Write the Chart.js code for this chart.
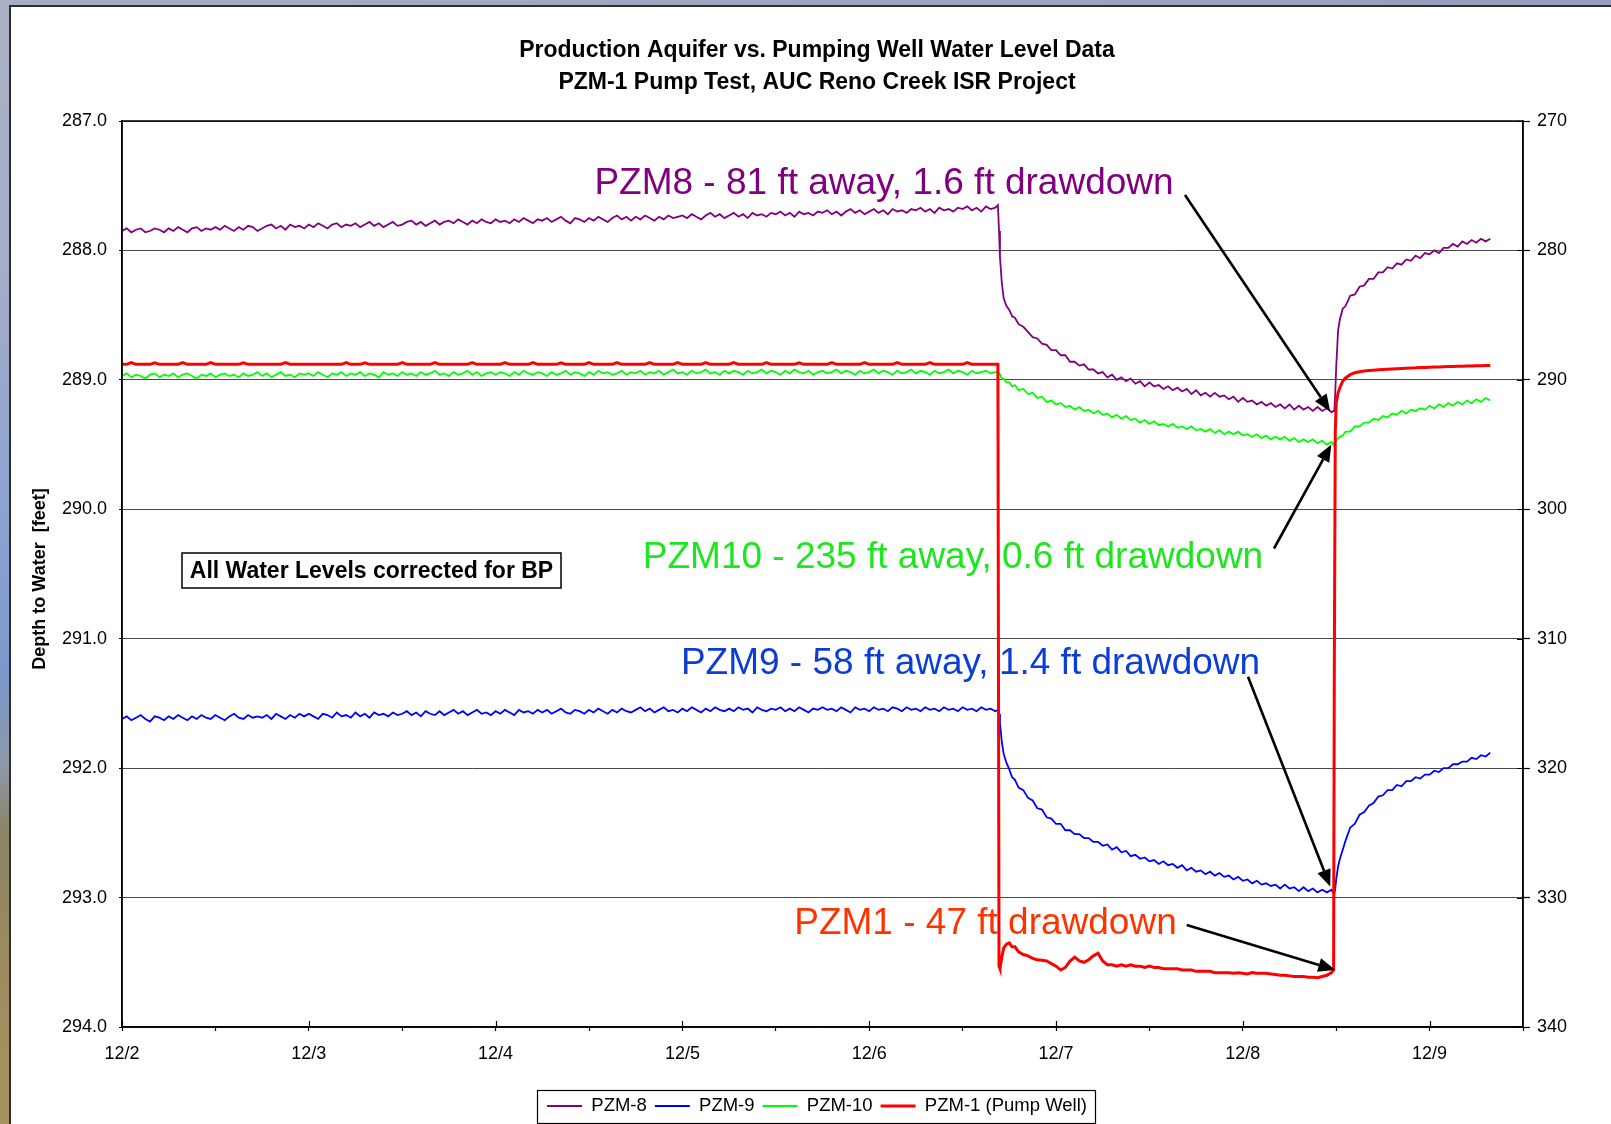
<!DOCTYPE html>
<html>
<head>
<meta charset="utf-8">
<script src="https://cdn.jsdelivr.net/npm/chart.js@4.4.1/dist/chart.umd.min.js"></script>
<style>
html,body{margin:0;padding:0;width:1611px;height:1124px;overflow:hidden;}
body{position:relative;background:linear-gradient(90deg,#a9adc3 0%,#a0a5bf 50%,#989dbb 100%);}
#strip{position:absolute;left:0;top:0;width:12px;height:1124px;background:linear-gradient(180deg,#abb0c5 0%,#a6adc7 22%,#90a5d0 42%,#7c98cc 60%,#8e98a8 68%,#8b8466 74%,#9c8b5d 86%,#a6945f 100%);}
#panel{position:absolute;left:9px;top:5px;width:1700px;height:1200px;border:2px solid #2e2e2e;background:#ffffff;}
#c{position:absolute;left:0;top:0;}
</style>
</head>
<body>
<div id="strip"></div>
<div id="panel"><canvas id="c" width="1612" height="1124"></canvas></div>
<script>
// ---------- DATA ----------
const titleLines = ['Production Aquifer vs. Pumping Well Water Level Data', 'PZM-1 Pump Test, AUC Reno Creek ISR Project'];
const seriesNames = ['PZM-8', 'PZM-9', 'PZM-10', 'PZM-1 (Pump Well)'];

const xTickDays = [0, 1, 2, 3, 4, 5, 6, 7];
const xTickLabels = ['12/2', '12/3', '12/4', '12/5', '12/6', '12/7', '12/8', '12/9'];
const yLeftTickValues = [287, 288, 289, 290, 291, 292, 293, 294];
const yLeftTickLabels = ['287.0', '288.0', '289.0', '290.0', '291.0', '292.0', '293.0', '294.0'];
const yRightTickValues = [270, 280, 290, 300, 310, 320, 330, 340];
const yRightTickLabels = ['270', '280', '290', '300', '310', '320', '330', '340'];

// time in days since 12/2 00:00
const timeDays = [
  0, 0.025, 0.05, 0.075, 0.1, 0.125, 0.15, 0.175, 0.2, 0.225,
  0.25, 0.275, 0.3, 0.325, 0.35, 0.375, 0.4, 0.425, 0.45, 0.475,
  0.5, 0.525, 0.55, 0.575, 0.6, 0.625, 0.65, 0.675, 0.7, 0.725,
  0.75, 0.775, 0.8, 0.825, 0.85, 0.875, 0.9, 0.925, 0.95, 0.975,
  1.0, 1.025, 1.05, 1.075, 1.1, 1.125, 1.15, 1.175, 1.2, 1.225,
  1.25, 1.275, 1.3, 1.325, 1.35, 1.375, 1.4, 1.425, 1.45, 1.475,
  1.5, 1.525, 1.55, 1.575, 1.6, 1.625, 1.65, 1.675, 1.7, 1.725,
  1.75, 1.775, 1.8, 1.825, 1.85, 1.875, 1.9, 1.925, 1.95, 1.975,
  2.0, 2.025, 2.05, 2.075, 2.1, 2.125, 2.15, 2.175, 2.2, 2.225,
  2.25, 2.275, 2.3, 2.325, 2.35, 2.375, 2.4, 2.425, 2.45, 2.475,
  2.5, 2.525, 2.55, 2.575, 2.6, 2.625, 2.65, 2.675, 2.7, 2.725,
  2.75, 2.775, 2.8, 2.825, 2.85, 2.875, 2.9, 2.925, 2.95, 2.975,
  3.0, 3.025, 3.05, 3.075, 3.1, 3.125, 3.15, 3.175, 3.2, 3.225,
  3.25, 3.275, 3.3, 3.325, 3.35, 3.375, 3.4, 3.425, 3.45, 3.475,
  3.5, 3.525, 3.55, 3.575, 3.6, 3.625, 3.65, 3.675, 3.7, 3.725,
  3.75, 3.775, 3.8, 3.825, 3.85, 3.875, 3.9, 3.925, 3.95, 3.975,
  4.0, 4.025, 4.05, 4.075, 4.1, 4.125, 4.15, 4.175, 4.2, 4.225,
  4.25, 4.275, 4.3, 4.325, 4.35, 4.375, 4.4, 4.425, 4.45, 4.475,
  4.5, 4.525, 4.55, 4.575, 4.6, 4.625, 4.65, 4.675,
  4.689,
  4.695, 4.7, 4.71, 4.72, 4.735, 4.75, 4.765, 4.78, 4.8, 4.825,
  4.85, 4.875, 4.9, 4.925, 4.95, 4.975, 5.0, 5.025, 5.05, 5.075,
  5.1, 5.125, 5.15, 5.175, 5.2, 5.225, 5.25, 5.275, 5.3, 5.325,
  5.35, 5.375, 5.4, 5.425, 5.45, 5.475, 5.5, 5.525, 5.55, 5.575,
  5.6, 5.625, 5.65, 5.675, 5.7, 5.725, 5.75, 5.775, 5.8, 5.825,
  5.85, 5.875, 5.9, 5.925, 5.95, 5.975, 6.0, 6.025, 6.05, 6.075,
  6.1, 6.125, 6.15, 6.175, 6.2, 6.225, 6.25, 6.275, 6.3, 6.325,
  6.35, 6.375, 6.4, 6.425, 6.45, 6.475,
  6.486,
  6.49, 6.495, 6.5, 6.51, 6.52, 6.535, 6.55, 6.575, 6.6, 6.625,
  6.65, 6.675, 6.7, 6.725, 6.75, 6.775, 6.8, 6.825, 6.85, 6.875,
  6.9, 6.925, 6.95, 6.975, 7.0, 7.025, 7.05, 7.075, 7.1, 7.125,
  7.15, 7.175, 7.2, 7.225, 7.25, 7.275, 7.3,
  7.325
];

// depth to water [ft], left axis
const pzm8 = [
  287.85, 287.83, 287.86, 287.84, 287.83, 287.86, 287.85, 287.83, 287.84, 287.86,
  287.83, 287.85, 287.82, 287.84, 287.86, 287.83, 287.82, 287.85, 287.83, 287.84,
  287.82, 287.84, 287.81, 287.83, 287.85, 287.82, 287.84, 287.81, 287.82, 287.85,
  287.83, 287.81, 287.80, 287.83, 287.81, 287.84, 287.80, 287.82, 287.81, 287.83,
  287.80, 287.82, 287.79, 287.81, 287.83, 287.80, 287.79, 287.82, 287.80, 287.81,
  287.79, 287.82, 287.80, 287.78, 287.81, 287.79, 287.82, 287.80, 287.78, 287.81,
  287.80, 287.78, 287.77, 287.80, 287.78, 287.81, 287.79, 287.77, 287.80, 287.78,
  287.77, 287.79, 287.76, 287.78, 287.80, 287.77, 287.79, 287.76, 287.78, 287.79,
  287.76, 287.78, 287.77, 287.79, 287.76, 287.78, 287.75, 287.77, 287.79, 287.76,
  287.77, 287.75, 287.78, 287.76, 287.74, 287.77, 287.79, 287.75, 287.76, 287.78,
  287.75, 287.77, 287.74, 287.76, 287.78, 287.75, 287.73, 287.76, 287.74, 287.77,
  287.74, 287.76, 287.73, 287.75, 287.77, 287.74, 287.76, 287.73, 287.75, 287.74,
  287.73, 287.75, 287.72, 287.74, 287.76, 287.73, 287.71, 287.74, 287.72, 287.75,
  287.73, 287.71, 287.74, 287.72, 287.75, 287.71, 287.73, 287.72, 287.74, 287.71,
  287.72, 287.70, 287.73, 287.71, 287.74, 287.70, 287.72, 287.71, 287.73, 287.70,
  287.71, 287.69, 287.72, 287.70, 287.73, 287.70, 287.68, 287.71, 287.69, 287.72,
  287.70, 287.68, 287.71, 287.69, 287.72, 287.68, 287.70, 287.69, 287.71, 287.68,
  287.69, 287.67, 287.70, 287.68, 287.71, 287.67, 287.69, 287.68, 287.70, 287.67,
  287.68, 287.66, 287.69, 287.67, 287.70, 287.66, 287.68, 287.67,
  287.65,
  287.85, 288.05, 288.25, 288.37, 288.43, 288.46, 288.51, 288.52, 288.57, 288.59,
  288.63, 288.67, 288.68, 288.72, 288.73, 288.77, 288.77, 288.81, 288.81, 288.86,
  288.86, 288.89, 288.88, 288.92, 288.92, 288.95, 288.94, 288.98, 288.96, 289.00,
  288.98, 289.01, 288.99, 289.03, 289.01, 289.05, 289.02, 289.05, 289.04, 289.07,
  289.05, 289.08, 289.06, 289.09, 289.07, 289.11, 289.08, 289.12, 289.10, 289.13,
  289.10, 289.13, 289.12, 289.15, 289.13, 289.17, 289.14, 289.17, 289.16, 289.19,
  289.17, 289.20, 289.18, 289.21, 289.19, 289.22, 289.19, 289.23, 289.20, 289.23,
  289.21, 289.24, 289.21, 289.24, 289.22, 289.25,
  289.24,
  289.24, 289.10, 288.90, 288.62, 288.53, 288.45, 288.43, 288.35, 288.34, 288.28,
  288.27, 288.22, 288.22, 288.17, 288.17, 288.13, 288.14, 288.10, 288.11, 288.07,
  288.08, 288.04, 288.06, 288.02, 288.03, 288.00, 288.02, 287.98, 287.98, 287.95,
  287.97, 287.93, 287.95, 287.92, 287.94, 287.91, 287.93,
  287.91
];
const pzm9 = [
  291.62, 291.60, 291.63, 291.61, 291.59, 291.62, 291.64, 291.60, 291.61, 291.63,
  291.60, 291.62, 291.59, 291.61, 291.63, 291.60, 291.62, 291.59, 291.61, 291.62,
  291.59, 291.61, 291.63, 291.60, 291.58, 291.61, 291.62, 291.59, 291.61, 291.60,
  291.61, 291.59, 291.62, 291.58, 291.60, 291.62, 291.59, 291.61, 291.58, 291.60,
  291.58, 291.60, 291.62, 291.58, 291.59, 291.61, 291.57, 291.60, 291.59, 291.61,
  291.57, 291.60, 291.58, 291.61, 291.57, 291.59, 291.58, 291.60, 291.57, 291.59,
  291.58, 291.56, 291.59, 291.57, 291.60, 291.56, 291.58, 291.59, 291.56, 291.59,
  291.57, 291.55, 291.58, 291.56, 291.59, 291.57, 291.55, 291.58, 291.57, 291.59,
  291.56, 291.58, 291.55, 291.57, 291.59, 291.55, 291.57, 291.56, 291.58, 291.55,
  291.57, 291.55, 291.58, 291.56, 291.54, 291.57, 291.58, 291.55, 291.56, 291.58,
  291.55, 291.57, 291.54, 291.56, 291.58, 291.55, 291.57, 291.54, 291.56, 291.57,
  291.55, 291.53, 291.56, 291.54, 291.57, 291.55, 291.53, 291.56, 291.55, 291.57,
  291.54, 291.56, 291.53, 291.55, 291.57, 291.54, 291.56, 291.53, 291.55, 291.56,
  291.54, 291.56, 291.53, 291.55, 291.54, 291.57, 291.53, 291.55, 291.56, 291.54,
  291.55, 291.53, 291.56, 291.54, 291.56, 291.53, 291.55, 291.57, 291.54, 291.55,
  291.53, 291.55, 291.54, 291.56, 291.53, 291.55, 291.57, 291.53, 291.55, 291.54,
  291.56, 291.53, 291.55, 291.54, 291.56, 291.53, 291.54, 291.56, 291.53, 291.55,
  291.54, 291.56, 291.53, 291.55, 291.54, 291.56, 291.53, 291.55, 291.54, 291.56,
  291.53, 291.55, 291.54, 291.56, 291.53, 291.55, 291.54, 291.56,
  291.55,
  291.58, 291.65, 291.80, 291.89, 291.96, 292.01, 292.07, 292.09, 292.15, 292.17,
  292.23, 292.25, 292.31, 292.32, 292.38, 292.39, 292.43, 292.43, 292.48, 292.48,
  292.51, 292.51, 292.54, 292.54, 292.57, 292.57, 292.60, 292.59, 292.63, 292.61,
  292.65, 292.64, 292.68, 292.67, 292.70, 292.69, 292.72, 292.71, 292.74, 292.72,
  292.75, 292.74, 292.77, 292.75, 292.79, 292.77, 292.80, 292.79, 292.82, 292.80,
  292.83, 292.81, 292.84, 292.83, 292.86, 292.84, 292.87, 292.86, 292.89, 292.87,
  292.90, 292.89, 292.91, 292.90, 292.93, 292.90, 292.93, 292.92, 292.95, 292.92,
  292.95, 292.93, 292.96, 292.94, 292.96, 292.94,
  292.97,
  292.97, 292.93, 292.86, 292.76, 292.70, 292.63, 292.56, 292.46, 292.43, 292.36,
  292.34, 292.29, 292.27, 292.22, 292.21, 292.17, 292.17, 292.13, 292.14, 292.10,
  292.10, 292.07, 292.08, 292.05, 292.05, 292.02, 292.03, 292.00, 292.00, 291.97,
  291.97, 291.95, 291.95, 291.92, 291.93, 291.90, 291.91,
  291.88
];
const pzm10 = [
  288.97, 288.95, 288.98, 288.96, 288.97, 288.99, 288.96, 288.95, 288.98, 288.96,
  288.97, 288.95, 288.98, 288.96, 288.95, 288.97, 288.99, 288.96, 288.97, 288.95,
  288.98, 288.96, 288.95, 288.97, 288.96, 288.98, 288.95, 288.97, 288.96, 288.94,
  288.97, 288.95, 288.98, 288.96, 288.94, 288.97, 288.96, 288.98, 288.95, 288.96,
  288.95, 288.97, 288.94, 288.96, 288.98, 288.95, 288.96, 288.94, 288.97, 288.95,
  288.96, 288.94, 288.97, 288.95, 288.96, 288.98, 288.94, 288.96, 288.95, 288.97,
  288.94, 288.96, 288.95, 288.97, 288.94, 288.96, 288.95, 288.93, 288.96, 288.95,
  288.97, 288.94, 288.96, 288.95, 288.93, 288.96, 288.94, 288.97, 288.95, 288.94,
  288.96, 288.94, 288.95, 288.97, 288.94, 288.96, 288.93, 288.95, 288.96, 288.94,
  288.95, 288.97, 288.94, 288.96, 288.95, 288.93, 288.96, 288.94, 288.95, 288.97,
  288.94, 288.96, 288.93, 288.95, 288.94, 288.96, 288.95, 288.93, 288.96, 288.94,
  288.95, 288.93, 288.96, 288.94, 288.95, 288.93, 288.96, 288.94, 288.92, 288.95,
  288.94, 288.96, 288.93, 288.95, 288.94, 288.92, 288.95, 288.94, 288.96, 288.93,
  288.95, 288.93, 288.94, 288.96, 288.93, 288.95, 288.94, 288.92, 288.95, 288.93,
  288.94, 288.96, 288.93, 288.95, 288.92, 288.94, 288.95, 288.93, 288.96, 288.94,
  288.93, 288.95, 288.94, 288.92, 288.95, 288.93, 288.94, 288.96, 288.93, 288.95,
  288.94, 288.92, 288.95, 288.93, 288.94, 288.96, 288.93, 288.95, 288.94, 288.92,
  288.95, 288.93, 288.94, 288.96, 288.93, 288.95, 288.94, 288.92, 288.95, 288.93,
  288.94, 288.96, 288.93, 288.95, 288.94, 288.93, 288.95, 288.94,
  288.94,
  288.95, 288.96, 288.99, 288.99, 289.02, 289.02, 289.05, 289.04, 289.08, 289.07,
  289.11, 289.10, 289.14, 289.13, 289.17, 289.16, 289.19, 289.18, 289.21, 289.20,
  289.23, 289.21, 289.24, 289.23, 289.26, 289.24, 289.27, 289.26, 289.29, 289.27,
  289.30, 289.28, 289.31, 289.30, 289.33, 289.31, 289.34, 289.32, 289.35, 289.34,
  289.36, 289.34, 289.37, 289.36, 289.38, 289.36, 289.39, 289.38, 289.40, 289.38,
  289.41, 289.39, 289.42, 289.40, 289.42, 289.40, 289.43, 289.42, 289.44, 289.42,
  289.45, 289.43, 289.46, 289.44, 289.46, 289.44, 289.47, 289.45, 289.48, 289.46,
  289.48, 289.46, 289.49, 289.47, 289.50, 289.48,
  289.50,
  289.49, 289.48, 289.47, 289.45, 289.44, 289.43, 289.40, 289.40, 289.36, 289.36,
  289.33, 289.33, 289.30, 289.31, 289.28, 289.29, 289.26, 289.27, 289.24, 289.26,
  289.23, 289.24, 289.22, 289.23, 289.20, 289.22, 289.19, 289.21, 289.18, 289.20,
  289.17, 289.19, 289.16, 289.18, 289.15, 289.17, 289.14,
  289.16
];
// pumping well, right axis
const pzm1 = [
  288.80, 288.80, 288.66, 288.80, 288.80, 288.80, 288.80, 288.68, 288.80, 288.80,
  288.80, 288.80, 288.80, 288.66, 288.80, 288.80, 288.80, 288.80, 288.80, 288.67,
  288.80, 288.80, 288.80, 288.80, 288.80, 288.80, 288.68, 288.80, 288.80, 288.80,
  288.80, 288.80, 288.80, 288.80, 288.80, 288.66, 288.80, 288.80, 288.80, 288.80,
  288.80, 288.80, 288.80, 288.80, 288.80, 288.80, 288.80, 288.80, 288.67, 288.80,
  288.80, 288.80, 288.68, 288.80, 288.80, 288.80, 288.80, 288.80, 288.80, 288.80,
  288.66, 288.80, 288.80, 288.80, 288.80, 288.80, 288.80, 288.67, 288.80, 288.80,
  288.80, 288.80, 288.80, 288.80, 288.80, 288.66, 288.80, 288.80, 288.80, 288.80,
  288.80, 288.80, 288.67, 288.80, 288.80, 288.80, 288.80, 288.80, 288.66, 288.80,
  288.80, 288.80, 288.80, 288.80, 288.68, 288.80, 288.80, 288.80, 288.80, 288.80,
  288.66, 288.80, 288.80, 288.80, 288.80, 288.80, 288.67, 288.80, 288.80, 288.80,
  288.80, 288.80, 288.80, 288.66, 288.80, 288.80, 288.80, 288.80, 288.80, 288.67,
  288.80, 288.80, 288.80, 288.80, 288.80, 288.66, 288.80, 288.80, 288.80, 288.80,
  288.80, 288.67, 288.80, 288.80, 288.80, 288.80, 288.80, 288.80, 288.66, 288.80,
  288.80, 288.80, 288.80, 288.80, 288.80, 288.68, 288.80, 288.80, 288.80, 288.80,
  288.80, 288.80, 288.66, 288.80, 288.80, 288.80, 288.80, 288.80, 288.80, 288.67,
  288.80, 288.80, 288.80, 288.80, 288.80, 288.80, 288.66, 288.80, 288.80, 288.80,
  288.80, 288.80, 288.80, 288.67, 288.80, 288.80, 288.80, 288.80, 288.80, 288.80,
  288.80, 288.66, 288.80, 288.80, 288.80, 288.80, 288.80, 288.80,
  288.80,
  335.3, 335.5, 334.6, 333.9, 333.6, 333.5, 333.8, 333.8, 334.2, 334.4,
  334.5, 334.7, 334.8, 334.85, 334.9, 335.1, 335.3, 335.6, 335.4, 334.9,
  334.6, 334.9, 335.0, 334.8, 334.5, 334.3, 334.9, 335.2, 335.2, 335.3,
  335.2, 335.3, 335.2, 335.3, 335.3, 335.4, 335.3, 335.4, 335.4, 335.5,
  335.5, 335.5, 335.5, 335.6, 335.6, 335.6, 335.7, 335.7, 335.7, 335.7,
  335.8, 335.8, 335.8, 335.8, 335.85, 335.8, 335.85, 335.9, 335.8, 335.85,
  335.85, 335.85, 335.9, 335.95, 336.0, 336.0, 336.05, 336.1, 336.1, 336.1,
  336.15, 336.15, 336.2, 336.1, 336.0, 335.8,
  335.6,
  312.0, 294.0, 291.8, 291.0, 290.6, 290.1, 289.85, 289.6, 289.45, 289.38,
  289.32, 289.28, 289.25, 289.22, 289.20, 289.18, 289.16, 289.14, 289.12, 289.10,
  289.08, 289.07, 289.05, 289.04, 289.02, 289.01, 289.00, 288.98, 288.97, 288.96,
  288.95, 288.94, 288.93, 288.92, 288.91, 288.91, 288.90,
  288.89
];

// annotation text & arrows (arrow tips in data coordinates)
const notes = [
  {text: 'PZM8 - 81 ft away, 1.6 ft drawdown', color: '#800080'},
  {text: 'PZM10 - 235 ft away, 0.6 ft drawdown', color: '#1ee61e'},
  {text: 'PZM9 - 58 ft away, 1.4 ft drawdown', color: '#0c3ed4'},
  {text: 'PZM1 - 47 ft drawdown', color: '#ff3300'}
];
const arrowTips = [
  {t: 6.468, v: 289.244, axis: 'y'},
  {t: 6.474, v: 289.50, axis: 'y'},
  {t: 6.468, v: 292.915, axis: 'y'},
  {t: 6.495, v: 335.59, axis: 'y2'}
];
const boxNote = 'All Water Levels corrected for BP';

// ---------- LAYOUT (canvas px) ----------
const notePos = [
  {cx: 873, base: 186.5, ax: 1174, ay: 188},
  {cx: 942, base: 561, ax: 1263, ay: 541.5},
  {cx: 959.5, base: 666.5, ax: 1237, ay: 669.7},
  {cx: 974.5, base: 926.5, ax: 1175.7, ay: 918}
];
const boxRect = {x: 171, y: 546, w: 379, h: 35};

const FONT = '"Liberation Sans", Arial, Helvetica, sans-serif';
Chart.defaults.font.family = FONT;
Chart.defaults.color = '#000';

function mk(vals) { return timeDays.map((t, i) => ({x: t, y: vals[i]})); }

function drawArrow(ctx, x1, y1, x2, y2) {
  const ang = Math.atan2(y2 - y1, x2 - x1);
  const L = 17, W = 7;
  const bx = x2 - L * Math.cos(ang), by = y2 - L * Math.sin(ang);
  ctx.save();
  ctx.strokeStyle = '#000'; ctx.fillStyle = '#000'; ctx.lineWidth = 2.6;
  ctx.beginPath(); ctx.moveTo(x1, y1); ctx.lineTo(bx, by); ctx.stroke();
  ctx.beginPath();
  ctx.moveTo(x2, y2);
  ctx.lineTo(bx - W * Math.sin(ang), by + W * Math.cos(ang));
  ctx.lineTo(bx + W * Math.sin(ang), by - W * Math.cos(ang));
  ctx.closePath(); ctx.fill();
  ctx.restore();
}

const decor = {
  id: 'decor',
  beforeDatasetsDraw(chart) {
    const ctx = chart.ctx;
    ctx.save();
    ctx.font = '37px ' + FONT;
    ctx.textAlign = 'center';
    ctx.textBaseline = 'alphabetic';
    notes.forEach((n, i) => { ctx.fillStyle = n.color; ctx.fillText(n.text, notePos[i].cx, notePos[i].base); });
    ctx.fillStyle = '#fff';
    ctx.fillRect(boxRect.x, boxRect.y, boxRect.w, boxRect.h);
    ctx.strokeStyle = '#000'; ctx.lineWidth = 1.5;
    ctx.strokeRect(boxRect.x, boxRect.y, boxRect.w, boxRect.h);
    ctx.fillStyle = '#000';
    ctx.font = 'bold 23px ' + FONT;
    ctx.textBaseline = 'middle';
    ctx.fillText(boxNote, boxRect.x + boxRect.w / 2, boxRect.y + boxRect.h / 2 + 1);
    ctx.restore();
  },
  afterDatasetsDraw(chart) {
    const ctx = chart.ctx, a = chart.chartArea;
    ctx.save();
    ctx.strokeStyle = '#000'; ctx.lineWidth = 1.5;
    ctx.strokeRect(a.left, a.top, a.right - a.left, a.bottom - a.top);
    ctx.lineWidth = 1.2;
    ctx.beginPath();
    xTickDays.forEach(d => { const px = Math.round(chart.scales.x.getPixelForValue(d)) + 0.5; ctx.moveTo(px, a.bottom); ctx.lineTo(px, a.bottom - 6); });
    yRightTickValues.forEach(v => { const py = Math.round(chart.scales.y2.getPixelForValue(v)) + 0.5; ctx.moveTo(a.right, py); ctx.lineTo(a.right - 6, py); });
    ctx.stroke();
    ctx.restore();
    arrowTips.forEach((tip, i) => {
      const px = chart.scales.x.getPixelForValue(tip.t);
      const py = chart.scales[tip.axis].getPixelForValue(tip.v);
      drawArrow(ctx, notePos[i].ax, notePos[i].ay, px, py);
    });
  },
  afterDraw(chart) {
    const lg = chart.legend;
    if (!lg || !lg.legendHitBoxes || !lg.legendHitBoxes.length) return;
    const hb = lg.legendHitBoxes;
    let l = Infinity, r = -Infinity, cy = 0;
    hb.forEach(h => { l = Math.min(l, h.left); r = Math.max(r, h.left + h.width); cy = h.top + h.height / 2; });
    const ctx = chart.ctx;
    ctx.save();
    ctx.strokeStyle = '#000'; ctx.lineWidth = 1.2;
    ctx.strokeRect(Math.round(l - 10) + 0.5, Math.round(cy - 16) + 0.5, Math.round(r - l + 18), 33);
    ctx.restore();
  }
};

const chart = new Chart(document.getElementById('c'), {
  type: 'line',
  data: {
    datasets: [
      {label: seriesNames[0], data: mk(pzm8), yAxisID: 'y', borderColor: '#800080', borderWidth: 1.8, order: 1},
      {label: seriesNames[1], data: mk(pzm9), yAxisID: 'y', borderColor: '#0000ff', borderWidth: 1.8, order: 1},
      {label: seriesNames[2], data: mk(pzm10), yAxisID: 'y', borderColor: '#00ff00', borderWidth: 1.8, order: 1},
      {label: seriesNames[3], data: mk(pzm1), yAxisID: 'y2', borderColor: '#ff0000', borderWidth: 3, order: 0}
    ]
  },
  options: {
    responsive: false,
    animation: false,
    events: [],
    devicePixelRatio: 1,
    elements: {point: {radius: 0}, line: {tension: 0, fill: false}},
    layout: {padding: {left: 0, right: 0, top: 0, bottom: 5.75}},
    plugins: {
      tooltip: {enabled: false},
      title: {
        display: true, text: titleLines, color: '#000',
        font: {size: 23, weight: 'bold', lineHeight: 32 / 23},
        padding: {top: 28, bottom: 22}
      },
      legend: {
        display: true, position: 'bottom',
        labels: {
          usePointStyle: true, pointStyle: 'line', pointStyleWidth: 35,
          padding: 8, color: '#000', font: {size: 18.5},
          sort: (a, b) => a.datasetIndex - b.datasetIndex
        }
      }
    },
    scales: {
      x: {
        type: 'linear', min: 0, max: 7.5,
        afterFit: s => { s.height = 61.75; },
        ticks: {
          stepSize: 0.5, autoSkip: false, maxRotation: 0, padding: 12,
          font: {size: 18}, color: '#000',
          callback: v => { const i = xTickDays.indexOf(v); return i >= 0 ? xTickLabels[i] : ''; }
        },
        grid: {drawOnChartArea: false, drawTicks: true, tickLength: 4, tickColor: '#000', tickWidth: 1.2},
        border: {display: true, color: '#000', width: 1.5}
      },
      y: {
        type: 'linear', position: 'left', reverse: true, min: 287, max: 294,
        afterFit: s => { s.width = 111; },
        ticks: {
          stepSize: 1, padding: 12, font: {size: 18}, color: '#000',
          callback: v => { const i = yLeftTickValues.indexOf(v); return i >= 0 ? yLeftTickLabels[i] : ''; }
        },
        grid: {drawOnChartArea: true, color: '#4a4a4a', lineWidth: 1, drawTicks: true, tickLength: 3, tickColor: '#000'},
        border: {display: true, color: '#000', width: 1.5},
        title: {display: true, text: 'Depth to Water  [feet]  ', font: {size: 18, weight: 'bold'}, color: '#000', padding: {top: 18, bottom: 0}}
      },
      y2: {
        type: 'linear', position: 'right', reverse: true, min: 270, max: 340,
        afterFit: s => { s.width = 100; },
        ticks: {
          stepSize: 10, padding: 7, font: {size: 18}, color: '#000',
          callback: v => { const i = yRightTickValues.indexOf(v); return i >= 0 ? yRightTickLabels[i] : ''; }
        },
        grid: {drawOnChartArea: false, drawTicks: true, tickLength: 7, tickColor: '#000', tickWidth: 1.2},
        border: {display: true, color: '#000', width: 1.5}
      }
    }
  },
  plugins: [decor]
});
</script>
</body>
</html>
